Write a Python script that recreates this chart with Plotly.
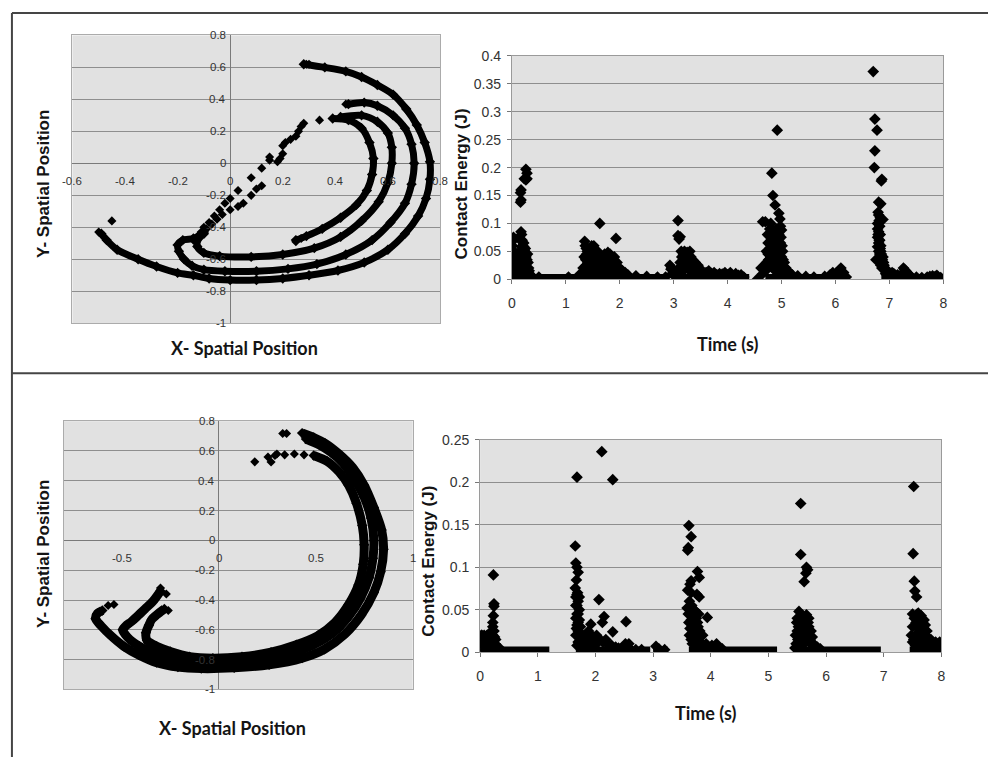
import plotly.graph_objects as go

W, H = 992, 765

# ---------------- DATA ----------------
# Top-left: X/Y spatial position (four arcs + sparse points)
TL_ARC_1 = [(0.28, 0.62), (0.36, 0.60), (0.44, 0.575), (0.50, 0.54), (0.56, 0.49), (0.62, 0.43),
            (0.67, 0.34), (0.71, 0.24), (0.74, 0.13), (0.76, 0.01), (0.76, -0.10), (0.745, -0.22),
            (0.715, -0.33), (0.665, -0.44), (0.60, -0.54), (0.51, -0.62), (0.41, -0.67), (0.30, -0.70),
            (0.20, -0.72), (0.10, -0.73), (0.0, -0.73), (-0.08, -0.72), (-0.14, -0.70), (-0.20, -0.685),
            (-0.28, -0.645), (-0.35, -0.60), (-0.43, -0.54), (-0.47, -0.48), (-0.49, -0.44)]
TL_ARC_2 = [(0.45, 0.37), (0.51, 0.38), (0.56, 0.36), (0.62, 0.30), (0.665, 0.22), (0.69, 0.12),
            (0.70, 0.0), (0.69, -0.13), (0.665, -0.25), (0.61, -0.37), (0.54, -0.48), (0.44, -0.57),
            (0.33, -0.63), (0.22, -0.66), (0.10, -0.675), (-0.02, -0.675), (-0.10, -0.665), (-0.145, -0.64),
            (-0.175, -0.60), (-0.195, -0.55), (-0.20, -0.51), (-0.18, -0.48), (-0.14, -0.47), (-0.10, -0.44)]
TL_ARC_3 = [(0.42, 0.29), (0.50, 0.30), (0.56, 0.26), (0.60, 0.19), (0.615, 0.10), (0.615, 0.0),
            (0.60, -0.12), (0.565, -0.24), (0.50, -0.36), (0.42, -0.46), (0.32, -0.53), (0.20, -0.57),
            (0.08, -0.585), (-0.04, -0.58), (-0.10, -0.56), (-0.125, -0.52), (-0.12, -0.47), (-0.10, -0.43)]
TL_ARC_4 = [(0.39, 0.28), (0.45, 0.27), (0.50, 0.22), (0.53, 0.13), (0.545, 0.03), (0.54, -0.07),
            (0.52, -0.17), (0.48, -0.26), (0.42, -0.34), (0.35, -0.41), (0.29, -0.455), (0.25, -0.48)]
TL_POINTS = [(0.29, 0.62), (0.30, 0.62), (0.44, 0.37), (0.34, 0.27), (0.28, 0.25), (0.27, 0.23),
             (0.26, 0.20), (0.25, 0.17), (0.23, 0.15), (0.21, 0.13), (0.20, 0.11), (0.20, 0.06),
             (0.19, 0.03), (0.18, 0.01), (0.15, 0.04), (0.15, 0.02), (0.12, -0.03), (0.08, -0.09),
             (0.03, -0.17), (0.0, -0.22), (-0.02, -0.25), (-0.04, -0.29), (-0.06, -0.33), (-0.08, -0.37),
             (-0.10, -0.40), (-0.11, -0.43), (0.12, -0.14), (0.10, -0.16), (0.08, -0.20), (0.05, -0.25),
             (0.03, -0.27), (0.0, -0.29), (-0.03, -0.32), (-0.05, -0.35), (-0.07, -0.38), (-0.09, -0.41),
             (-0.12, -0.45), (-0.14, -0.48), (-0.45, -0.36), (-0.50, -0.43), (0.27, -0.47), (0.25, -0.49)]

# Bottom-left: X/Y spatial position (three near-circular arcs + sparse points)
BL_ARC_1 = [(0.43, 0.72), (0.49, 0.69), (0.55, 0.65), (0.62, 0.58), (0.69, 0.49), (0.75, 0.37),
            (0.80, 0.22), (0.84, 0.07), (0.85, -0.06), (0.835, -0.21), (0.80, -0.35), (0.735, -0.50),
            (0.65, -0.63), (0.545, -0.73), (0.43, -0.79), (0.26, -0.835), (0.08, -0.855), (-0.09, -0.86),
            (-0.21, -0.85), (-0.32, -0.82), (-0.41, -0.77), (-0.49, -0.71), (-0.555, -0.64), (-0.605, -0.575),
            (-0.635, -0.525), (-0.625, -0.49), (-0.60, -0.47)]
BL_ARC_2 = [(0.45, 0.68), (0.52, 0.64), (0.58, 0.59), (0.64, 0.52), (0.70, 0.41), (0.75, 0.29),
            (0.785, 0.15), (0.80, 0.0), (0.795, -0.12), (0.775, -0.25), (0.73, -0.39), (0.67, -0.51),
            (0.59, -0.62), (0.49, -0.70), (0.37, -0.76), (0.24, -0.80), (0.10, -0.82), (-0.05, -0.83),
            (-0.20, -0.81), (-0.31, -0.77), (-0.41, -0.71), (-0.47, -0.65), (-0.495, -0.60), (-0.48, -0.575),
            (-0.45, -0.545), (-0.42, -0.51), (-0.38, -0.46), (-0.34, -0.41), (-0.30, -0.34)]
BL_ARC_3 = [(0.49, 0.57), (0.56, 0.53), (0.62, 0.46), (0.67, 0.37), (0.71, 0.25), (0.74, 0.10),
            (0.75, -0.03), (0.745, -0.16), (0.72, -0.30), (0.67, -0.43), (0.60, -0.55), (0.51, -0.64),
            (0.40, -0.70), (0.27, -0.75), (0.12, -0.78), (-0.03, -0.79), (-0.15, -0.78), (-0.25, -0.745),
            (-0.32, -0.71), (-0.37, -0.67), (-0.375, -0.62), (-0.36, -0.57), (-0.345, -0.53), (-0.32, -0.50),
            (-0.28, -0.46)]
BL_POINTS = [(0.33, 0.717), (0.35, 0.717), (0.186, 0.527), (0.254, 0.56), (0.27, 0.526), (0.29, 0.57),
             (0.30, 0.58), (0.34, 0.574), (0.39, 0.58), (0.44, 0.574), (-0.57, -0.437), (-0.54, -0.43),
             (-0.30, -0.32), (-0.27, -0.36), (-0.26, -0.47)]

# Top-right: contact energy vs time
TR_POINTS = [
    (0.26, 0.197), (0.28, 0.19), (0.23, 0.18), (0.26, 0.178), (0.28, 0.18), (0.17, 0.16), (0.16, 0.155),
    (0.17, 0.142), (0.16, 0.138), (0.17, 0.085), (0.18, 0.08), (0.03, 0.075), (0.05, 0.072), (0.16, 0.07),
    (0.20, 0.06), (0.18, 0.058), (0.22, 0.058), (0.25, 0.055), (0.02, 0.05), (0.06, 0.048), (0.15, 0.05),
    (0.20, 0.05), (0.23, 0.045), (0.26, 0.04), (0.28, 0.035), (0.30, 0.03), (0.03, 0.03), (0.08, 0.032),
    (0.14, 0.035), (0.18, 0.03), (0.22, 0.028), (0.25, 0.022), (0.28, 0.02), (0.32, 0.015), (0.02, 0.018),
    (0.06, 0.02), (0.10, 0.015), (0.14, 0.02), (0.20, 0.015), (0.24, 0.01), (0.30, 0.008), (0.34, 0.006),
    (0.04, 0.008), (0.12, 0.006), (0.17, 0.01), (0.50, 0.004), (1.05, 0.004),
    (0.01, 0.01), (0.01, 0.03), (0.01, 0.06), (0.04, 0.04), (0.04, 0.02), (0.07, 0.01), (0.09, 0.025),
    (0.11, 0.04), (0.13, 0.03), (0.15, 0.01), (0.16, 0.045), (0.19, 0.04), (0.19, 0.02), (0.21, 0.035),
    (0.21, 0.005), (0.23, 0.03), (0.24, 0.05), (0.26, 0.03), (0.27, 0.012), (0.29, 0.045), (0.31, 0.02),
    (0.33, 0.01), (0.36, 0.004), (0.22, 0.065), (0.19, 0.07),
    (1.35, 0.068), (1.36, 0.06), (1.38, 0.055), (1.40, 0.05), (1.42, 0.045), (1.45, 0.055), (1.50, 0.05),
    (1.55, 0.052), (1.60, 0.045), (1.63, 0.10), (1.58, 0.04), (1.50, 0.035), (1.45, 0.03), (1.40, 0.035),
    (1.38, 0.025), (1.42, 0.02), (1.50, 0.025), (1.55, 0.03), (1.60, 0.03), (1.65, 0.035), (1.70, 0.025),
    (1.75, 0.02), (1.78, 0.048), (1.82, 0.045), (1.85, 0.04), (1.88, 0.035), (1.93, 0.073), (1.90, 0.025),
    (1.95, 0.03), (2.00, 0.02), (2.05, 0.015), (2.10, 0.012), (1.30, 0.01), (1.25, 0.008), (1.35, 0.015),
    (1.45, 0.012), (1.55, 0.015), (1.65, 0.012), (1.75, 0.01), (1.85, 0.012), (1.95, 0.01), (2.15, 0.008),
    (2.30, 0.006), (2.50, 0.005), (2.70, 0.004), (2.85, 0.004),
    (1.32, 0.02), (1.34, 0.04), (1.37, 0.035), (1.39, 0.045), (1.41, 0.03), (1.43, 0.04), (1.44, 0.02),
    (1.46, 0.045), (1.47, 0.025), (1.48, 0.04), (1.52, 0.045), (1.53, 0.02), (1.56, 0.04), (1.57, 0.025),
    (1.59, 0.05), (1.61, 0.02), (1.62, 0.04), (1.64, 0.025), (1.67, 0.03), (1.68, 0.015), (1.72, 0.035),
    (1.74, 0.03), (1.76, 0.035), (1.80, 0.03), (1.83, 0.02), (1.87, 0.025), (1.90, 0.04), (1.92, 0.02),
    (1.97, 0.02), (2.02, 0.01), (2.08, 0.008), (1.80, 0.04), (1.72, 0.045), (1.48, 0.06), (1.52, 0.06),
    (2.93, 0.025), (2.95, 0.018), (2.97, 0.01), (3.08, 0.105), (3.08, 0.078), (3.10, 0.072), (3.12, 0.076),
    (3.15, 0.04), (3.18, 0.045), (3.20, 0.05), (3.25, 0.048), (3.30, 0.05), (3.22, 0.035), (3.30, 0.03),
    (3.35, 0.035), (3.40, 0.03), (3.45, 0.025), (3.20, 0.02), (3.30, 0.015), (3.50, 0.015), (3.60, 0.012),
    (3.70, 0.01), (3.80, 0.008), (3.90, 0.009), (4.00, 0.008), (4.05, 0.012), (4.10, 0.006), (4.20, 0.007),
    (4.30, 0.004), (3.15, 0.012), (3.40, 0.01), (3.05, 0.015), (3.00, 0.008), (4.55, 0.0),
    (3.12, 0.03), (3.14, 0.05), (3.16, 0.025), (3.24, 0.04), (3.26, 0.025), (3.28, 0.04), (3.32, 0.04),
    (3.36, 0.02), (3.38, 0.025), (3.42, 0.02), (3.48, 0.02), (3.55, 0.01), (3.65, 0.015), (3.75, 0.012),
    (3.85, 0.01), (3.95, 0.012), (4.15, 0.01), (4.25, 0.008), (2.96, 0.02), (3.10, 0.02),
    (4.62, 0.02), (4.65, 0.01), (4.65, 0.103), (4.70, 0.103), (4.80, 0.10), (4.82, 0.19), (4.84, 0.15),
    (4.88, 0.133), (4.95, 0.118), (4.97, 0.108), (4.92, 0.267), (4.98, 0.095), (5.00, 0.088), (4.95, 0.08),
    (4.90, 0.09), (4.85, 0.085), (4.80, 0.075), (4.75, 0.065), (4.78, 0.055), (4.82, 0.06), (4.88, 0.07),
    (4.92, 0.06), (4.98, 0.065), (5.02, 0.05), (5.00, 0.04), (4.90, 0.045), (4.80, 0.04), (4.72, 0.03),
    (4.75, 0.045), (4.85, 0.035), (4.95, 0.03), (5.05, 0.03), (5.08, 0.02), (4.75, 0.02), (4.85, 0.018),
    (4.90, 0.015), (5.00, 0.012), (5.10, 0.01), (5.20, 0.008), (5.30, 0.006), (5.45, 0.005), (5.60, 0.004),
    (5.80, 0.005), (5.90, 0.008), (6.00, 0.01), (6.05, 0.012), (6.10, 0.02), (6.12, 0.01), (6.20, 0.004),
    (4.72, 0.05), (4.74, 0.08), (4.76, 0.035), (4.78, 0.09), (4.79, 0.025), (4.81, 0.05), (4.83, 0.07),
    (4.84, 0.03), (4.86, 0.055), (4.87, 0.02), (4.89, 0.08), (4.91, 0.035), (4.93, 0.075), (4.94, 0.05),
    (4.96, 0.025), (4.97, 0.055), (4.99, 0.075), (5.01, 0.06), (5.03, 0.035), (5.04, 0.02), (5.06, 0.015),
    (5.12, 0.015), (5.15, 0.01), (4.70, 0.015), (4.68, 0.025), (5.95, 0.012), (6.07, 0.016), (6.15, 0.012),
    (6.70, 0.372), (6.73, 0.287), (6.77, 0.267), (6.73, 0.23), (6.72, 0.20), (6.86, 0.179), (6.85, 0.176),
    (6.80, 0.138), (6.84, 0.135), (6.80, 0.115), (6.88, 0.107), (6.78, 0.10), (6.82, 0.095), (6.78, 0.09),
    (6.80, 0.085), (6.83, 0.08), (6.78, 0.075), (6.82, 0.07), (6.80, 0.065), (6.84, 0.06), (6.78, 0.058),
    (6.75, 0.035), (6.85, 0.045), (6.88, 0.04), (6.85, 0.03), (6.90, 0.025), (6.86, 0.02), (6.92, 0.015),
    (6.95, 0.012), (7.00, 0.01), (7.05, 0.012), (7.10, 0.008), (7.20, 0.006), (7.26, 0.02), (7.30, 0.015),
    (7.35, 0.01), (7.40, 0.005), (7.50, 0.004), (7.60, 0.003), (7.70, 0.004), (7.80, 0.006), (7.85, 0.005),
    (7.90, 0.004), (7.95, 0.003),
    (6.79, 0.12), (6.81, 0.105), (6.83, 0.11), (6.79, 0.08), (6.81, 0.07), (6.83, 0.055), (6.80, 0.05),
    (6.82, 0.045), (6.84, 0.05), (6.86, 0.04), (6.87, 0.035), (6.89, 0.03), (6.84, 0.025), (6.88, 0.02),
    (6.91, 0.02), (6.93, 0.01), (6.97, 0.015), (7.02, 0.008), (7.08, 0.01), (7.15, 0.008), (7.28, 0.017),
    (7.32, 0.012), (7.75, 0.005), (7.88, 0.007)]
TR_BASELINE = [(0.02, 2.88), (3.0, 4.4), (4.7, 6.2), (6.85, 7.98)]
BASE_LEVEL = 0.002

# Bottom-right: contact energy vs time
BR_POINTS = [
    (0.23, 0.091), (0.24, 0.057), (0.24, 0.054), (0.23, 0.043), (0.22, 0.03), (0.20, 0.025), (0.02, 0.015),
    (0.05, 0.017), (0.08, 0.018), (0.12, 0.02), (0.15, 0.019), (0.18, 0.018), (0.22, 0.02), (0.25, 0.018),
    (0.04, 0.01), (0.10, 0.01), (0.16, 0.012), (0.20, 0.008), (0.26, 0.01), (0.30, 0.006), (0.35, 0.004),
    (0.05, 0.005), (0.13, 0.005),
    (0.01, 0.005), (0.01, 0.012), (0.03, 0.02), (0.06, 0.012), (0.07, 0.02), (0.09, 0.015), (0.11, 0.012),
    (0.14, 0.015), (0.17, 0.008), (0.19, 0.022), (0.21, 0.015), (0.23, 0.012), (0.24, 0.025), (0.27, 0.015),
    (0.28, 0.008), (0.22, 0.035), (0.02, 0.02),
    (1.68, 0.206), (1.65, 0.125), (1.66, 0.105), (1.68, 0.10), (1.70, 0.094), (1.65, 0.0755), (1.68, 0.068),
    (1.72, 0.065), (1.70, 0.06), (1.68, 0.055), (1.72, 0.05), (1.70, 0.045), (1.66, 0.04), (1.72, 0.038),
    (1.68, 0.032), (1.74, 0.03), (1.70, 0.025), (1.66, 0.02), (1.75, 0.018), (1.70, 0.012), (1.80, 0.015),
    (1.85, 0.02), (1.92, 0.033), (1.90, 0.01), (1.95, 0.015), (2.00, 0.018), (2.05, 0.012), (2.11, 0.236),
    (2.30, 0.203), (2.06, 0.062), (2.15, 0.042), (2.12, 0.035), (2.20, 0.01), (2.30, 0.024), (2.25, 0.006),
    (2.40, 0.005), (2.53, 0.036), (2.52, 0.01), (2.55, 0.006), (2.60, 0.004), (2.70, 0.003), (2.80, 0.003),
    (3.05, 0.007), (3.10, 0.004), (3.20, 0.003),
    (1.66, 0.055), (1.68, 0.045), (1.67, 0.085), (1.69, 0.07), (1.66, 0.065), (1.70, 0.035), (1.67, 0.028),
    (1.71, 0.02), (1.68, 0.008), (1.73, 0.01), (1.77, 0.012), (1.82, 0.008), (1.87, 0.015), (1.93, 0.02),
    (1.98, 0.008), (2.02, 0.02), (2.08, 0.015), (2.13, 0.012), (2.18, 0.015), (2.22, 0.01), (2.28, 0.008),
    (2.35, 0.006), (2.45, 0.004), (2.58, 0.01), (1.88, 0.025), (1.78, 0.02),
    (3.62, 0.149), (3.66, 0.136), (3.61, 0.123), (3.60, 0.12), (3.77, 0.095), (3.80, 0.088), (3.66, 0.084),
    (3.64, 0.08), (3.60, 0.073), (3.66, 0.07), (3.76, 0.068), (3.80, 0.065), (3.59, 0.052), (3.74, 0.048),
    (3.70, 0.045), (3.94, 0.041), (3.66, 0.038), (3.72, 0.035), (3.78, 0.03), (3.64, 0.028), (3.70, 0.022),
    (3.76, 0.02), (3.82, 0.018), (3.66, 0.015), (3.72, 0.012), (3.85, 0.01), (3.90, 0.008), (4.10, 0.01),
    (4.05, 0.006), (4.20, 0.004),
    (3.61, 0.045), (3.63, 0.06), (3.65, 0.05), (3.67, 0.055), (3.69, 0.035), (3.71, 0.05), (3.73, 0.025),
    (3.75, 0.04), (3.77, 0.035), (3.79, 0.045), (3.81, 0.025), (3.63, 0.02), (3.68, 0.01), (3.74, 0.008),
    (3.80, 0.012), (3.86, 0.02), (3.92, 0.01), (3.96, 0.005), (4.02, 0.008), (3.62, 0.035),
    (5.56, 0.175), (5.56, 0.115), (5.66, 0.10), (5.68, 0.097), (5.65, 0.093), (5.62, 0.083), (5.50, 0.04),
    (5.53, 0.048), (5.58, 0.044), (5.66, 0.044), (5.70, 0.04), (5.60, 0.035), (5.55, 0.03), (5.50, 0.025),
    (5.62, 0.028), (5.70, 0.03), (5.74, 0.025), (5.65, 0.02), (5.55, 0.015), (5.48, 0.01), (5.72, 0.015),
    (5.78, 0.01), (5.60, 0.01), (5.85, 0.006), (5.90, 0.004),
    (5.47, 0.02), (5.49, 0.035), (5.51, 0.015), (5.52, 0.03), (5.54, 0.04), (5.57, 0.025), (5.59, 0.04),
    (5.61, 0.02), (5.63, 0.04), (5.64, 0.012), (5.67, 0.03), (5.68, 0.018), (5.69, 0.035), (5.71, 0.02),
    (5.73, 0.01), (5.76, 0.018), (5.80, 0.008), (5.46, 0.005), (5.58, 0.006),
    (7.52, 0.195), (7.51, 0.116), (7.53, 0.0836), (7.54, 0.072), (7.57, 0.065), (7.50, 0.045), (7.53, 0.04),
    (7.60, 0.046), (7.65, 0.043), (7.70, 0.038), (7.72, 0.032), (7.58, 0.03), (7.62, 0.025), (7.55, 0.02),
    (7.70, 0.02), (7.75, 0.025), (7.50, 0.012), (7.60, 0.01), (7.78, 0.015), (7.85, 0.01), (7.90, 0.012),
    (7.95, 0.008), (7.80, 0.005), (7.98, 0.004),
    (7.48, 0.02), (7.50, 0.03), (7.52, 0.015), (7.56, 0.035), (7.58, 0.045), (7.60, 0.02), (7.63, 0.035),
    (7.66, 0.025), (7.68, 0.03), (7.70, 0.01), (7.73, 0.02), (7.76, 0.012), (7.82, 0.015), (7.87, 0.005),
    (7.92, 0.01), (7.97, 0.012), (7.64, 0.012), (7.55, 0.008)]
BR_BASELINE = [(0.02, 1.2), (1.66, 2.95), (3.0, 3.25), (3.62, 5.15), (5.45, 6.95), (7.45, 7.98)]

TL_XTICKS = [-0.6, -0.4, -0.2, 0, 0.2, 0.4, 0.6, 0.8]
BL_XTICKS = [-0.5, 0, 0.5, 1]
SPATIAL_YTICKS = [0.8, 0.6, 0.4, 0.2, 0, -0.2, -0.4, -0.6, -0.8, -1]

# ---------------- FIGURE ----------------
fig = go.Figure()
BLACK = "#000000"


def unzip(pts):
    return [p[0] for p in pts], [p[1] for p in pts]


def add_arc(pts, xa, ya, lw, ms):
    x, y = unzip(pts)
    fig.add_trace(go.Scatter(x=x, y=y, xaxis=xa, yaxis=ya, mode="lines+markers",
                             line=dict(color=BLACK, width=lw, shape="spline", smoothing=0.8),
                             marker=dict(symbol="diamond", size=ms, color=BLACK),
                             hoverinfo="skip", showlegend=False))


def add_points(pts, xa, ya, ms):
    x, y = unzip(pts)
    fig.add_trace(go.Scatter(x=x, y=y, xaxis=xa, yaxis=ya, mode="markers",
                             marker=dict(symbol="diamond", size=ms, color=BLACK),
                             hoverinfo="skip", showlegend=False))


def add_baseline(segs, xa, ya, lw):
    x, y = [], []
    for a, b in segs:
        x += [a, b, None]
        y += [BASE_LEVEL, BASE_LEVEL, None]
    fig.add_trace(go.Scatter(x=x, y=y, xaxis=xa, yaxis=ya, mode="lines",
                             line=dict(color=BLACK, width=lw), hoverinfo="skip", showlegend=False))


for arc in (TL_ARC_1, TL_ARC_2, TL_ARC_3, TL_ARC_4):
    add_arc(arc, "x", "y", 7, 8)
add_points(TL_POINTS, "x", "y", 7)

add_baseline(TR_BASELINE, "x2", "y2", 8)
add_points(TR_POINTS, "x2", "y2", 9)

for arc in (BL_ARC_1, BL_ARC_2, BL_ARC_3):
    add_arc(arc, "x3", "y3", 9, 8)
add_points(BL_POINTS, "x3", "y3", 7)

add_baseline(BR_BASELINE, "x4", "y4", 8)
add_points(BR_POINTS, "x4", "y4", 9)


def dom_x(a, b):
    return [a / W, b / W]


def dom_y(top, bottom):
    return [1 - bottom / H, 1 - top / H]


PLOT_BG = "#e1e1e1"
GRID = "#8e8e8e"
FRAME = "#ababab"
TICKFONT = dict(family="Liberation Sans, Arial, sans-serif", size=14, color="#333333")

spatial_x = dict(showgrid=False, zeroline=True, zerolinecolor="#7a7a7a", zerolinewidth=1,
                 showticklabels=False, ticks="", showline=True, linecolor=FRAME, mirror=True,
                 fixedrange=True)
spatial_y = dict(dtick=0.2, tick0=0, showgrid=True, gridcolor=GRID, gridwidth=1,
                 zeroline=True, zerolinecolor="#7a7a7a", zerolinewidth=1,
                 showticklabels=False, ticks="", showline=True, linecolor=FRAME, mirror=True,
                 fixedrange=True)
time_x = dict(range=[0, 8], dtick=1, tick0=0, showgrid=False, zeroline=False, ticks="outside",
              ticklen=4, tickcolor="#777777", showline=True, linecolor="#9a9a9a", mirror=True,
              tickfont=TICKFONT, ticklabelstandoff=7, fixedrange=True)
time_y = dict(tick0=0, showgrid=True, gridcolor=GRID, gridwidth=1, zeroline=False,
              ticks="outside", ticklen=4, tickcolor="#777777", showline=True, linecolor="#9a9a9a",
              mirror=True, tickfont=TICKFONT, ticklabelstandoff=3, fixedrange=True)

fig.update_layout(
    width=W, height=H, margin=dict(l=0, r=0, t=0, b=0),
    paper_bgcolor="white", plot_bgcolor=PLOT_BG, showlegend=False,
    xaxis=dict(domain=dom_x(69, 440), range=[-0.6, 0.8], anchor="y", **spatial_x),
    yaxis=dict(domain=dom_y(28, 322), range=[-1, 0.8], anchor="x", **spatial_y),
    xaxis2=dict(domain=dom_x(512, 947), anchor="y2", **time_x),
    yaxis2=dict(domain=dom_y(49, 277), range=[0, 0.4], dtick=0.05, anchor="x2", **time_y),
    xaxis3=dict(domain=dom_x(60, 412), range=[-0.8, 1], anchor="y3", **spatial_x),
    yaxis3=dict(domain=dom_y(422, 696), range=[-1, 0.8], anchor="x3", **spatial_y),
    xaxis4=dict(domain=dom_x(480, 945), anchor="y4", **time_x),
    yaxis4=dict(domain=dom_y(441, 658), range=[0, 0.25], dtick=0.05, anchor="x4", **time_y),
)

annotations = []
SMALL = dict(family="Liberation Sans, Arial, sans-serif", size=11.5, color="#333333")


def fmt(v):
    return "%g" % v


for xr, yr, xt in (("x", "y", TL_XTICKS), ("x3", "y3", BL_XTICKS)):
    for v in SPATIAL_YTICKS:
        annotations.append(dict(x=0, y=v, xref=xr, yref=yr, text=fmt(v), showarrow=False,
                                xanchor="right", yanchor="middle", xshift=-2, font=SMALL))
    for v in xt:
        annotations.append(dict(x=v, y=0, xref=xr, yref=yr, text=fmt(v), showarrow=False,
                                xanchor="center", yanchor="top", yshift=-10, font=SMALL))

TITLE = dict(family="Lato, Liberation Sans, sans-serif", size=18, color="#141414")
YTITLE = dict(family="Liberation Sans, Arial, sans-serif", size=17, color="#141414")


def paper_text(text, px, py, font, angle=0):
    annotations.append(dict(x=px / W, y=1 - py / H, xref="paper", yref="paper", text=text,
                            showarrow=False, xanchor="center", yanchor="middle",
                            textangle=angle, font=font))


paper_text("<b>X- Spatial Position</b>", 242, 347, TITLE)
paper_text("<b>Y- Spatial Position</b>", 40, 180, YTITLE, -90)
paper_text("<b>Time (s)</b>", 729, 343, TITLE)
paper_text("<b>Contact Energy (J)</b>", 461, 180, YTITLE, -90)
paper_text("<b>X- Spatial Position</b>", 230, 735, TITLE)
paper_text("<b>Y- Spatial Position</b>", 40, 558, YTITLE, -90)
paper_text("<b>Time (s)</b>", 707, 720, TITLE)
paper_text("<b>Contact Energy (J)</b>", 428, 565, YTITLE, -90)

fig.update_layout(annotations=annotations)

# outer frame lines of the figure
LINE = dict(color="#454545", width=2)
fig.update_layout(shapes=[
    dict(type="line", xref="paper", yref="paper", x0=8 / W, x1=1, y0=1 - 5 / H, y1=1 - 5 / H, line=LINE),
    dict(type="line", xref="paper", yref="paper", x0=8 / W, x1=8 / W, y0=0, y1=1 - 5 / H, line=LINE),
    dict(type="line", xref="paper", yref="paper", x0=8 / W, x1=1, y0=1 - 373 / H, y1=1 - 373 / H, line=LINE),
])

fig.write_html("out.html")
